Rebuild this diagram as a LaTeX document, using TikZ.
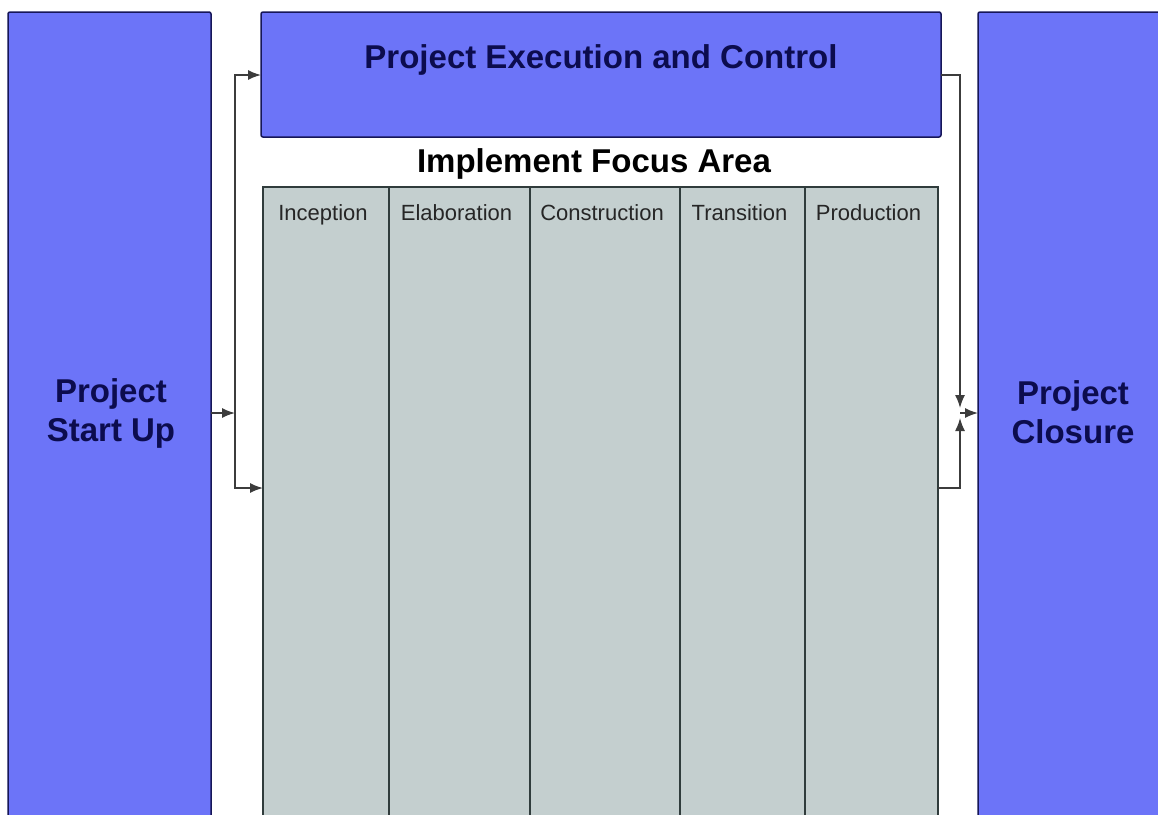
\documentclass[tikz,border=0pt]{standalone}
\usepackage{fontspec}
\setmainfont{Liberation Sans}
\usetikzlibrary{%
  arrows.meta,%
  calc,%
  positioning%
}
\definecolor{boxblue}{RGB}{108,116,248}
\definecolor{boxnavy}{RGB}{22,22,88}
\definecolor{textnavy}{RGB}{12,12,78}
\definecolor{phasegray}{RGB}{196,207,207}
\definecolor{phaseedge}{RGB}{48,60,60}
\definecolor{linegray}{RGB}{60,60,60}
\tikzset{>={Latex[length=13pt,width=10pt]},%
  bluebox/.style={draw=boxnavy,fill=boxblue,line width=1.5pt,rounded corners=2pt,
    inner sep=0pt,outer sep=0pt,anchor=north west},
  phasebox/.style={draw=phaseedge,fill=phasegray,line width=1.6pt,
    inner sep=0pt,outer sep=0pt,anchor=north west,minimum height=660pt},
  bigtext/.style={font=\bfseries\fontsize{33}{39}\selectfont,text=textnavy,align=center},
  phasetext/.style={font=\fontsize{22}{26}\selectfont,text=black!85,anchor=base},
  conn/.style={draw=linegray,line width=1.5pt}}

\begin{document}
\begin{tikzpicture}[x=1pt,y=-1pt]
  \useasboundingbox (0,0) rectangle (1158,814);
  \clip (0,0) rectangle (1158,814);
  \node[bluebox,minimum width=203pt,minimum height=840pt] (start) at (8,12) {};
  \node[bluebox,minimum width=680pt,minimum height=125pt] (exec) at (261,12) {};
  \node[bluebox,minimum width=220pt,minimum height=840pt] (closure) at (978,12) {};
  \node[bigtext] (startlbl) at (111,413) {Project\\Start Up};
  \node[bigtext] (closurelbl) at (1073,412) {Project\\Closure};
  \node[bigtext,anchor=base] (execlbl) at (601,68) {Project Execution and Control};
  \node[bigtext,anchor=base,text=black] (focuslbl) at (594,172) {Implement Focus Area};
  % phase columns
  \foreach \name/\txt/\xl/\w in {inc/Inception/263/126,ela/Elaboration/389/141,
      con/Construction/530/150,tra/Transition/680/125,pro/Production/805/133}{
    \node[phasebox,minimum width=\w pt] (\name) at (\xl,187) {};
    \node[phasetext] (\name lbl) at ($(\name.north)+(-3,33)$) {\txt};
  }
  % connectors
  \coordinate (splitL) at (235,413);
  \coordinate (joinR) at (960,413);
  \coordinate (rowtop) at (0,75);
  \coordinate (rowbot) at (0,488);
  \draw[conn,->] (start.east |- splitL) -- (splitL);
  \draw[conn,->] (splitL) |- (exec.west |- rowtop);
  \draw[conn,->] (splitL) |- (inc.west |- rowbot);
  \draw[conn,->,shorten >=5pt] (exec.east |- rowtop) -| (joinR);
  \draw[conn,->,shorten >=5pt] (pro.east |- rowbot) -| (joinR);
  \draw[conn,->] (joinR) -- (closure.west |- joinR);
\end{tikzpicture}
\end{document}
